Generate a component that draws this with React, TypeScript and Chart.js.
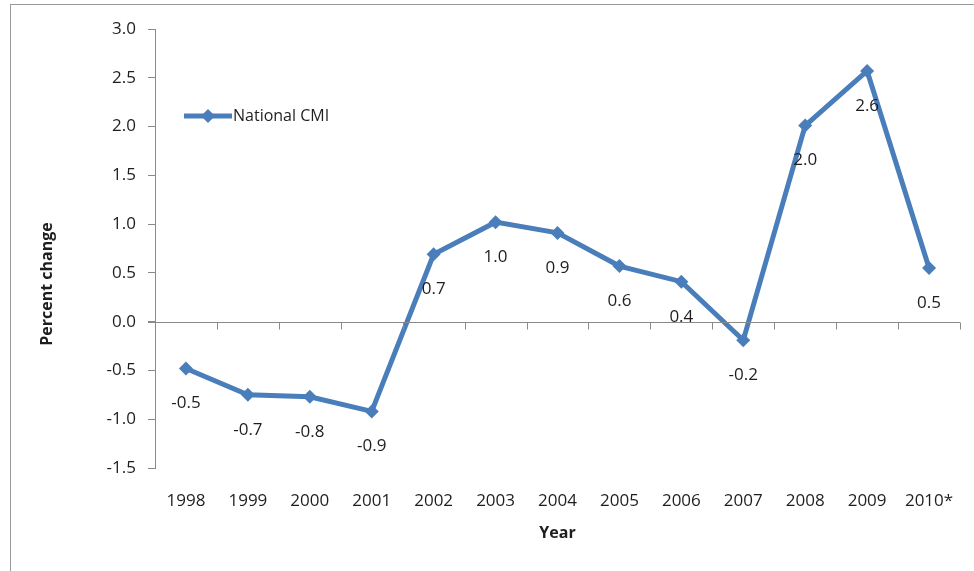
import React, { useEffect, useRef } from "react";
import { Chart, registerables } from "chart.js";

Chart.register(...registerables);

const years = ["1998", "1999", "2000", "2001", "2002", "2003", "2004", "2005", "2006", "2007", "2008", "2009", "2010*"];
const cmiValues = [-0.48, -0.75, -0.77, -0.92, 0.69, 1.02, 0.91, 0.57, 0.41, -0.19, 2.01, 2.57, 0.55];
const cmiLabels = ["-0.5", "-0.7", "-0.8", "-0.9", "0.7", "1.0", "0.9", "0.6", "0.4", "-0.2", "2.0", "2.6", "0.5"];
const seriesName = "National CMI";
const yTitle = "Percent change";
const xTitle = "Year";

const FONT = "'Open Sans', 'Noto Sans', sans-serif";
const BLUE = "#4a7ebb";
const TEXT = "#1e1e1e";
const AXIS = "#8a8a8a";

const extrasPlugin = {
  id: "extras",
  afterDraw(chart: any) {
    const { ctx, chartArea, scales } = chart;
    const x = scales.x;
    const y = scales.y;
    ctx.save();
    // zero axis line with category boundary ticks
    const y0 = Math.round(y.getPixelForValue(0)) + 0.5;
    ctx.strokeStyle = AXIS;
    ctx.lineWidth = 1;
    ctx.beginPath();
    ctx.moveTo(chartArea.left - 7, y0);
    ctx.lineTo(chartArea.right, y0);
    const n = years.length;
    const w = (chartArea.right - chartArea.left) / n;
    for (let i = 1; i <= n; i++) {
      const px = Math.round(x.getPixelForValue(i - 1) + w / 2) + 0.5;
      ctx.moveTo(px, y0);
      ctx.lineTo(px, y0 + 7);
    }
    ctx.stroke();

    // data labels
    const meta = chart.getDatasetMeta(0);
    ctx.fillStyle = TEXT;
    ctx.font = `17px ${FONT}`;
    ctx.textAlign = "center";
    ctx.textBaseline = "middle";
    meta.data.forEach((pt: any, i: number) => {
      ctx.fillText(cmiLabels[i], pt.x, pt.y + 35);
    });

    // legend inside plot
    const lx = chartArea.left + 29;
    const ly = 116;
    ctx.strokeStyle = BLUE;
    ctx.lineWidth = 5;
    ctx.beginPath();
    ctx.moveTo(lx, ly);
    ctx.lineTo(lx + 48, ly);
    ctx.stroke();
    ctx.fillStyle = BLUE;
    ctx.beginPath();
    const cx = lx + 24;
    ctx.moveTo(cx, ly - 7);
    ctx.lineTo(cx + 7, ly);
    ctx.lineTo(cx, ly + 7);
    ctx.lineTo(cx - 7, ly);
    ctx.closePath();
    ctx.fill();
    ctx.fillStyle = TEXT;
    ctx.textAlign = "left";
    ctx.font = `16px ${FONT}`;
    ctx.fillText(seriesName, lx + 49, ly);

    // axis titles
    ctx.font = `bold 16px ${FONT}`;
    ctx.textAlign = "center";
    ctx.fillText(xTitle, (chartArea.left + chartArea.right) / 2, 533);
    ctx.translate(47, 284);
    ctx.rotate(-Math.PI / 2);
    ctx.fillText(yTitle, 0, 0);
    ctx.restore();
  },
};

export default function App() {
  const ref = useRef<HTMLCanvasElement | null>(null);
  useEffect(() => {
    if (!ref.current) return;
    const chart = new Chart(ref.current, {
      type: "line",
      data: {
        labels: years,
        datasets: [
          {
            label: seriesName,
            data: cmiValues,
            borderColor: BLUE,
            backgroundColor: BLUE,
            borderWidth: 5,
            pointStyle: "rectRot",
            pointRadius: 7,
            pointBorderWidth: 0,
            tension: 0,
          },
        ],
      },
      options: {
        animation: false,
        responsive: false,
        maintainAspectRatio: false,
        layout: { padding: { top: 29, right: 14, bottom: 0, left: 0 } },
        plugins: { legend: { display: false }, tooltip: { enabled: false }, title: { display: false } },
        scales: {
          x: {
            offset: true,
            grid: { display: false },
            border: { display: false },
            ticks: { color: TEXT, font: { family: FONT, size: 17 }, padding: 15, maxRotation: 0, autoSkip: false },
            afterFit: (s: any) => {
              s.height = 571 - 468;
            },
          },
          y: {
            min: -1.5,
            max: 3,
            grid: { drawOnChartArea: false, color: AXIS, tickLength: 7 },
            border: { display: true, color: AXIS },
            ticks: {
              stepSize: 0.5,
              color: TEXT,
              font: { family: FONT, size: 17 },
              padding: 12,
              callback: (v: any) => Number(v).toFixed(1),
            },
            afterFit: (s: any) => {
              s.width = 155;
            },
          },
        },
      },
      plugins: [extrasPlugin],
    });
    return () => chart.destroy();
  }, []);
  return (
    <div style={{ position: "fixed", left: 0, top: 0, width: 974, height: 571, background: "#fff", overflow: "hidden" }}>
      <div style={{ position: "absolute", left: 10, top: 4, width: 1000, height: 600, border: "1px solid #9a9a9a" }} />
      <canvas ref={ref} width={974} height={571} style={{ position: "absolute", left: 0, top: 0 }} />
    </div>
  );
}
